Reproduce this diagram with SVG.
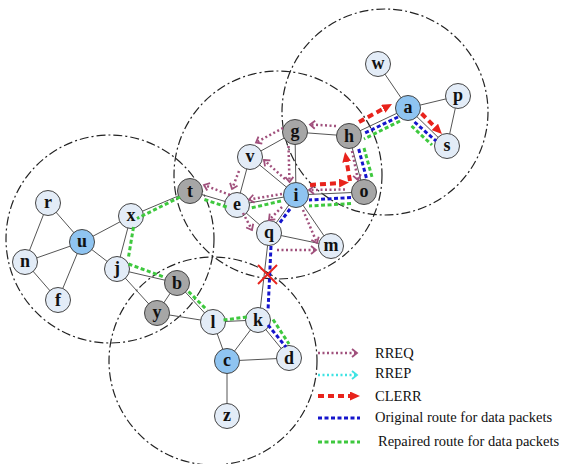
<svg xmlns="http://www.w3.org/2000/svg" width="563" height="464" viewBox="0 0 563 464">
<style>
.rng{fill:none;stroke:#222;stroke-width:1.2;stroke-dasharray:9 3 2 3}
.ed{stroke:#555;stroke-width:1;fill:none}
.nd{stroke:#444;stroke-width:1}
.lt{fill:#e3ecf7}.bl{fill:#8fc4f1}.gy{fill:#a6a6a6}
.lb{font-family:"Liberation Serif","Times New Roman",serif;font-weight:bold;font-size:18px;text-anchor:middle;fill:#111}
.rq{stroke:#a0507c;stroke-width:2.5;stroke-dasharray:2 2.5;fill:none;marker-end:url(#chv)}
.rp{stroke:#3fe3e3;stroke-width:2.5;stroke-dasharray:2 2.5;fill:none;marker-end:url(#chc)}
.ce{stroke:#e8231c;stroke-width:4;stroke-dasharray:6 4;fill:none;marker-end:url(#tri)}
.bu{stroke:#1515cc;stroke-width:3;stroke-dasharray:4 2.5;fill:none}
.gr{stroke:#3ec83e;stroke-width:3;stroke-dasharray:4 2.5;fill:none}
.lg{font-family:"Liberation Serif","Times New Roman",serif;font-size:14.5px;fill:#111}
</style>
<defs>
<marker id="chv" markerUnits="userSpaceOnUse" viewBox="-1 -1 8 10" markerWidth="8" markerHeight="10" refX="5" refY="4" orient="auto"><path d="M0,0 L5,4 L0,8" fill="none" stroke="#a0507c" stroke-width="1.8"/></marker>
<marker id="chc" markerUnits="userSpaceOnUse" viewBox="-1 -1 8 10" markerWidth="8" markerHeight="10" refX="5" refY="4" orient="auto"><path d="M0,0 L5,4 L0,8" fill="none" stroke="#3fe3e3" stroke-width="1.8"/></marker>
<marker id="tri" markerUnits="userSpaceOnUse" viewBox="0 0 10 9" markerWidth="10" markerHeight="9" refX="2" refY="4.5" orient="auto"><path d="M0,0 L10,4.5 L0,9 z" fill="#e8231c"/></marker>
</defs>
<rect width="563" height="464" fill="#fff"/>
<g id="ranges">
<circle class="rng" cx="385" cy="112" r="103"/>
<circle class="rng" cx="278" cy="175" r="104"/>
<circle class="rng" cx="110" cy="239" r="104"/>
<circle class="rng" cx="213" cy="361" r="104"/>
</g>
<g id="connectors">
<g id="links" class="ed">
<line x1="378" y1="64" x2="408" y2="108"/>
<line x1="408" y1="108" x2="458" y2="96"/>
<line x1="458" y1="96" x2="447" y2="146"/>
<line x1="408" y1="108" x2="447" y2="146"/>
<line x1="408" y1="108" x2="349" y2="136"/>
<line x1="349" y1="136" x2="295" y2="132"/>
<line x1="349" y1="136" x2="364" y2="192"/>
<line x1="295" y1="132" x2="250" y2="157"/>
<line x1="295" y1="132" x2="296" y2="195"/>
<line x1="250" y1="157" x2="237" y2="205"/>
<line x1="250" y1="157" x2="296" y2="195"/>
<line x1="296" y1="195" x2="364" y2="192"/>
<line x1="296" y1="195" x2="237" y2="205"/>
<line x1="296" y1="195" x2="269" y2="233"/>
<line x1="296" y1="195" x2="331" y2="246"/>
<line x1="237" y1="205" x2="190" y2="191"/>
<line x1="237" y1="205" x2="269" y2="233"/>
<line x1="269" y1="233" x2="331" y2="246"/>
<line x1="269" y1="233" x2="259" y2="320"/>
<line x1="190" y1="191" x2="131" y2="216"/>
<line x1="131" y1="216" x2="82" y2="242"/>
<line x1="131" y1="216" x2="117" y2="269"/>
<line x1="82" y1="242" x2="48" y2="203"/>
<line x1="82" y1="242" x2="25" y2="262"/>
<line x1="82" y1="242" x2="58" y2="300"/>
<line x1="82" y1="242" x2="117" y2="269"/>
<line x1="48" y1="203" x2="25" y2="262"/>
<line x1="25" y1="262" x2="58" y2="300"/>
<line x1="117" y1="269" x2="177" y2="283"/>
<line x1="117" y1="269" x2="157" y2="313"/>
<line x1="177" y1="283" x2="157" y2="313"/>
<line x1="177" y1="283" x2="213" y2="322"/>
<line x1="157" y1="313" x2="213" y2="322"/>
<line x1="213" y1="322" x2="258" y2="320"/>
<line x1="213" y1="322" x2="227" y2="361"/>
<line x1="258" y1="320" x2="227" y2="361"/>
<line x1="258" y1="320" x2="289" y2="358"/>
<line x1="227" y1="361" x2="289" y2="358"/>
<line x1="227" y1="361" x2="227" y2="416"/>
</g>
</g>
<g id="nodes">
<g id="node-w"><circle class="nd lt" cx="378" cy="64" r="12.5"/><text class="lb" x="378" y="69">w</text></g>
<g id="node-a"><circle class="nd bl" cx="408" cy="108" r="12.5"/><text class="lb" x="408" y="113">a</text></g>
<g id="node-p"><circle class="nd lt" cx="458" cy="96" r="12.5"/><text class="lb" x="458" y="101">p</text></g>
<g id="node-s"><circle class="nd lt" cx="447" cy="146" r="12.5"/><text class="lb" x="447" y="151">s</text></g>
<g id="node-h"><circle class="nd gy" cx="349" cy="136" r="12.5"/><text class="lb" x="349" y="142">h</text></g>
<g id="node-g"><circle class="nd gy" cx="295" cy="132" r="12.5"/><text class="lb" x="295" y="137">g</text></g>
<g id="node-v"><circle class="nd lt" cx="250" cy="157" r="12.5"/><text class="lb" x="250" y="162">v</text></g>
<g id="node-i"><circle class="nd bl" cx="296" cy="195" r="12.5"/><text class="lb" x="296" y="201">i</text></g>
<g id="node-o"><circle class="nd gy" cx="364" cy="192" r="12.5"/><text class="lb" x="364" y="197">o</text></g>
<g id="node-e"><circle class="nd lt" cx="237" cy="205" r="12.5"/><text class="lb" x="237" y="210">e</text></g>
<g id="node-t"><circle class="nd gy" cx="190" cy="191" r="12.5"/><text class="lb" x="190" y="197">t</text></g>
<g id="node-q"><circle class="nd lt" cx="269" cy="233" r="12.5"/><text class="lb" x="269" y="238">q</text></g>
<g id="node-m"><circle class="nd lt" cx="331" cy="246" r="12.5"/><text class="lb" x="331" y="251">m</text></g>
<g id="node-x"><circle class="nd lt" cx="131" cy="216" r="12.5"/><text class="lb" x="131" y="221">x</text></g>
<g id="node-r"><circle class="nd lt" cx="48" cy="203" r="12.5"/><text class="lb" x="48" y="208">r</text></g>
<g id="node-u"><circle class="nd bl" cx="82" cy="242" r="12.5"/><text class="lb" x="82" y="247">u</text></g>
<g id="node-n"><circle class="nd lt" cx="25" cy="262" r="12.5"/><text class="lb" x="25" y="267">n</text></g>
<g id="node-f"><circle class="nd lt" cx="58" cy="300" r="12.5"/><text class="lb" x="58" y="306">f</text></g>
<g id="node-j"><circle class="nd lt" cx="117" cy="269" r="12.5"/><text class="lb" x="117" y="274">j</text></g>
<g id="node-b"><circle class="nd gy" cx="177" cy="283" r="12.5"/><text class="lb" x="177" y="289">b</text></g>
<g id="node-y"><circle class="nd gy" cx="157" cy="313" r="12.5"/><text class="lb" x="157" y="318">y</text></g>
<g id="node-l"><circle class="nd lt" cx="213" cy="322" r="12.5"/><text class="lb" x="213" y="328">l</text></g>
<g id="node-k"><circle class="nd lt" cx="258" cy="320" r="12.5"/><text class="lb" x="258" y="326">k</text></g>
<g id="node-c"><circle class="nd bl" cx="227" cy="361" r="12.5"/><text class="lb" x="227" y="366">c</text></g>
<g id="node-d"><circle class="nd lt" cx="289" cy="358" r="12.5"/><text class="lb" x="289" y="364">d</text></g>
<g id="node-z"><circle class="nd lt" cx="227" cy="416" r="12.5"/><text class="lb" x="227" y="421">z</text></g>
</g>
<g id="routes">
<g id="original-route">
<line class="bu" x1="414.5" y1="122" x2="436" y2="141"/>
<line class="bu" x1="398" y1="117" x2="363" y2="134"/>
<line class="bu" x1="358.7" y1="149" x2="366.4" y2="178"/>
<line class="bu" x1="351" y1="197.5" x2="309" y2="200"/>
<line class="bu" x1="290" y1="209" x2="279" y2="224"/>
<line class="bu" x1="271" y1="246" x2="268" y2="311"/>
<line class="bu" x1="268" y1="325" x2="286" y2="347"/>
</g>
<g id="repaired-route">
<line class="gr" x1="411.5" y1="126" x2="432" y2="145"/>
<line class="gr" x1="400" y1="121" x2="364" y2="139"/>
<line class="gr" x1="364" y1="148" x2="372" y2="177"/>
<line class="gr" x1="351" y1="203.5" x2="309" y2="206"/>
<line class="gr" x1="281" y1="201" x2="251" y2="208"/>
<line class="gr" x1="226.7" y1="207" x2="203" y2="199"/>
<line class="gr" x1="180" y1="197" x2="137" y2="218.5"/>
<line class="gr" x1="133.5" y1="227" x2="128.5" y2="257"/>
<line class="gr" x1="128.5" y1="264" x2="164" y2="277"/>
<line class="gr" x1="188.5" y1="291.5" x2="207" y2="310"/>
<line class="gr" x1="223.5" y1="320" x2="247" y2="317"/>
<line class="gr" x1="273" y1="319.5" x2="289" y2="344"/>
</g>
<g id="rreq">
<line class="rq" x1="336" y1="126" x2="310" y2="124.5"/>
<line class="rq" x1="283" y1="128" x2="256" y2="142.5"/>
<line class="rq" x1="288.5" y1="146" x2="289.5" y2="182"/>
<line class="rq" x1="285" y1="179" x2="264" y2="160"/>
<line class="rq" x1="239" y1="171" x2="232" y2="189"/>
<line class="rq" x1="282" y1="194" x2="249" y2="199.5"/>
<line class="rq" x1="230" y1="195" x2="204" y2="185"/>
<line class="rq" x1="243" y1="213" x2="252" y2="230"/>
<line class="rq" x1="282" y1="207" x2="269" y2="220"/>
<line class="rq" x1="303" y1="210" x2="317" y2="243"/>
<line class="rq" x1="277" y1="250" x2="316" y2="250"/>
<line class="rq" x1="352" y1="151" x2="358" y2="180"/>
<line class="rq" x1="345" y1="189.5" x2="309" y2="190"/>
</g>
<g id="clerr">
<line class="ce" x1="310" y1="185" x2="341" y2="183"/>
<line class="ce" x1="350" y1="181" x2="346.4" y2="160"/>
<line class="ce" x1="359" y1="122" x2="385" y2="107.8"/>
<line class="ce" x1="421.5" y1="113.5" x2="436.3" y2="128.3"/>
</g>
<g id="break" stroke="#e8231c" stroke-width="2">
<line x1="258" y1="265" x2="277" y2="284"/>
<line x1="277" y1="265" x2="258" y2="284"/>
</g>
</g>
<g id="legend">
<line class="rq" x1="318" y1="353" x2="357" y2="353"/>
<text class="lg" x="375" y="358">RREQ</text>
<line class="rp" x1="318" y1="375" x2="357" y2="375"/>
<text class="lg" x="375" y="378">RREP</text>
<line class="ce" x1="318" y1="396" x2="352" y2="396"/>
<text class="lg" x="375" y="401">CLERR</text>
<line class="bu" x1="318" y1="418" x2="360" y2="418"/>
<text class="lg" x="375" y="422">Original route for data packets</text>
<line class="gr" x1="318" y1="442" x2="360" y2="442"/>
<text class="lg" x="378" y="446">Repaired route for data packets</text>
</g>
</svg>
